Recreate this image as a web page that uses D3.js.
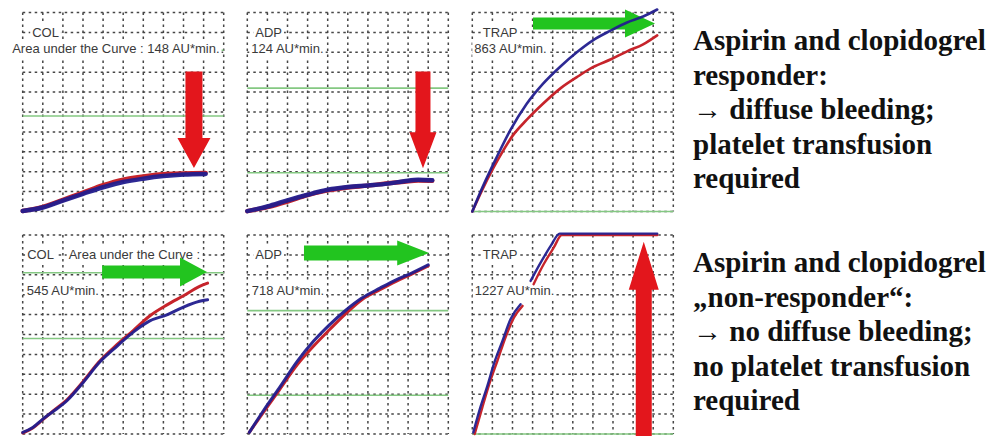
<!DOCTYPE html>
<html>
<head>
<meta charset="utf-8">
<script src="https://cdn.jsdelivr.net/npm/d3@7"></script>
<style>
  html, body { margin: 0; padding: 0; background: #fff; }
  svg { display: block; }
  .note { font-family: "Liberation Serif", "Times New Roman", "Noto Serif", "DejaVu Serif", serif; font-weight: bold; }
  .lbl { font-family: "Liberation Sans", Arial, sans-serif; }
</style>
</head>
<body>
<svg id="chart" width="1003" height="436"></svg>
<script>
// Multiplate impedance aggregometry traces.
// x: grid column (time), 0-10; y: aggregation, 0-100 of the panel height.

const panelNames = ["COL", "ADP", "TRAP", "COL", "ADP", "TRAP"];
const aucValues = [148, 124, 863, 545, 718, 1227];
const aucCaption = "Area under the Curve :";
const aucUnit = "AU*min.";

// Responder (top row)
const colRespBlue = [[0,0.3],[1,2],[2,5.5],[3,8.9],[4,12.2],[5,14.8],[6,16.5],[7,17.8],[8,18.6],[9.1,18.9]];
const colRespRed  = [[0,0.3],[1,2.3],[2,5.9],[3,9.5],[4,13.2],[5,16],[6,17.6],[7,18.7],[8,19.1],[9.1,19.3]];
const adpRespBlue = [[0,0.2],[1,2.5],[2,5.6],[3,8.4],[4,10.9],[5,12.3],[6,13.1],[7,14],[7.8,15.2],[8.5,16],[9.2,15.7]];
const adpRespRed  = [[0,0.2],[1,2.2],[2,5],[3,8.2],[4,10.6],[5,12.1],[6,13],[7,14.2],[7.8,15],[8.5,15.6],[9.2,15.5]];
const trapRespBlue = [[0,0],[0.5,12],[1.2,27],[1.9,41],[2.7,54],[3.5,64],[4.4,73],[5.2,80],[6,86],[6.9,91],[7.7,95],[8.5,98],[9.2,101.5]];
const trapRespRed  = [[0,0],[0.5,11],[1,21],[1.5,30],[2,38],[2.7,46],[3.5,54],[4.4,62],[5.2,67.5],[6,72.5],[6.9,76.5],[7.7,80.5],[8.5,84],[9.2,88.5]];

// Non-responder (bottom row); null marks a break in the trace
const colNonBlue = [[0,0.8],[0.5,3.3],[1,7.5],[1.5,11.2],[2.2,16.7],[3,25.8],[3.8,35.8],[4.7,44.2],[5.5,51.2],[6.3,56.7],[7.2,60],[8,63.8],[8.8,66.7],[9.2,67.5]];
const colNonRed  = [[0,0.5],[0.5,3],[1,7.2],[1.5,11.5],[2.2,17.2],[3,26.3],[3.8,36.3],[4.7,45],[5.5,52],[6.3,59.2],[7.2,65],[8,69.5],[8.8,74.2],[9.2,75.8]];
const adpNonBlue = [[0.1,0.8],[0.8,11.7],[1.6,23.3],[2.5,36.7],[3.3,46.7],[4.1,55],[4.9,62.2],[5.7,68.3],[6.6,73.3],[7.4,77.5],[8.2,81],[9,85]];
const adpNonRed  = [[0.1,0.8],[0.8,10.8],[1.6,22.2],[2.5,35],[3.3,44.2],[4.1,52.5],[4.9,60.5],[5.7,67.5],[6.6,72.5],[7.4,76.7],[8.2,80.5],[9,84.5]];
const trapNonBlue = [[0.05,0.8],[0.4,13.4],[0.75,24.2],[1.07,35.1],[1.5,46.8],[1.9,57.7],[2.4,65.2],null,[2.9,76.9],[3.4,86.1],[3.9,94.5],[4.35,100.7],[9.2,100.7]];
const trapNonRed  = [[0.12,0],[0.5,13.4],[0.9,26.8],[1.25,36.8],[1.65,48.5],[2.07,58.5],[2.5,64.4],null,[3.05,75.3],[3.55,85.3],[4.05,93.6],[4.45,100],[9.2,100]];

// Reference levels (green lines)
const colThresholds = [81, 48];
const adpThresholds = [62, 19.5];
const trapThresholds = [0];

const responderNote = ["Aspirin and clopidogrel", "responder:", "\u2192 diffuse bleeding;", "platelet transfusion", "required"];
const nonResponderNote = ["Aspirin and clopidogrel", "\u201Enon-responder\u201C:", "\u2192 no diffuse bleeding;", "no platelet transfusion", "required"];

// ---------- layout ----------
const svg = d3.select("#chart");
const panelW = 201, panelH = 199;
const colLeft = [22.7, 247.3, 472.3];
const rowTop = [12.5, 235];

const BLUE = "#221d8e", RED = "#c6242b", GRID = "#262626";
const GREEN_LINE = "#84c882", GREEN_ARROW = "#22c41f", RED_ARROW = "#e3161c";

const panels = [
  { row: 0, col: 0, blue: colRespBlue, red: colRespRed, thresholds: colThresholds, lw: 4.5,
    labels: [{ t: panelNames[0], dx: 9.5, dy: 24 }, { t: `${aucCaption} ${aucValues[0]} ${aucUnit}`, dx: -10.5, dy: 40.5 }],
    arrow: { from: [8.52, 70.3], to: [8.52, 21.9], sw: 17, hw: 33, hl: 30, fill: RED_ARROW } },
  { row: 0, col: 1, blue: adpRespBlue, red: adpRespRed, thresholds: adpThresholds, lw: 4.5,
    labels: [{ t: panelNames[1], dx: 8, dy: 24 }, { t: `${aucValues[1]} ${aucUnit}`, dx: 4, dy: 40.5 }],
    arrow: { from: [8.74, 70.3], to: [8.74, 21.7], sw: 15, hw: 27, hl: 36, fill: RED_ARROW } },
  { row: 0, col: 2, blue: trapRespBlue, red: trapRespRed, thresholds: trapThresholds, lw: 2.6,
    labels: [{ t: panelNames[2], dx: 10.5, dy: 24 }, { t: `${aucValues[2]} ${aucUnit}`, dx: 2, dy: 40.5 }],
    arrow: { from: [3.02, 94.5], to: [9.09, 94.5], sw: 12, hw: 28, hl: 30, fill: GREEN_ARROW } },
  { row: 1, col: 0, blue: colNonBlue, red: colNonRed, thresholds: colThresholds, lw: 3,
    labels: [{ t: panelNames[3], dx: 4.5, dy: 24 }, { t: aucCaption, dx: 46, dy: 24 }, { t: `${aucValues[3]} ${aucUnit}`, dx: 4, dy: 60 }],
    arrow: { from: [3.95, 81.4], to: [9.17, 81.4], sw: 13, hw: 29, hl: 27, fill: GREEN_ARROW } },
  { row: 1, col: 1, blue: adpNonBlue, red: adpNonRed, thresholds: adpThresholds, lw: 3,
    labels: [{ t: panelNames[4], dx: 8, dy: 24 }, { t: `${aucValues[4]} ${aucUnit}`, dx: 4.5, dy: 60 }],
    arrow: { from: [2.82, 91], to: [9.05, 91], sw: 15, hw: 25, hl: 32, fill: GREEN_ARROW } },
  { row: 1, col: 2, blue: trapNonBlue, red: trapNonRed, thresholds: trapThresholds, lw: 2.4,
    labels: [{ t: panelNames[5], dx: 10.5, dy: 24 }, { t: `${aucValues[5]} ${aucUnit}`, dx: 2.5, dy: 60 }],
    arrow: { from: [8.53, -1.5], to: [8.53, 96.6], sw: 16, hw: 30, hl: 48, fill: RED_ARROW } }
];

function arrowPoints(x1, y1, x2, y2, sw, hw, hl) {
  const len = Math.hypot(x2 - x1, y2 - y1);
  const ux = (x2 - x1) / len, uy = (y2 - y1) / len;
  const nx = -uy, ny = ux;
  const bx = x2 - ux * hl, by = y2 - uy * hl;
  return [
    [x1 + nx * sw / 2, y1 + ny * sw / 2],
    [bx + nx * sw / 2, by + ny * sw / 2],
    [bx + nx * hw / 2, by + ny * hw / 2],
    [x2, y2],
    [bx - nx * hw / 2, by - ny * hw / 2],
    [bx - nx * sw / 2, by - ny * sw / 2],
    [x1 - nx * sw / 2, y1 - ny * sw / 2]
  ];
}

panels.forEach(p => {
  const x0 = colLeft[p.col], y0 = rowTop[p.row];
  const g = svg.append("g").attr("transform", `translate(${x0},${y0})`);
  const x = d3.scaleLinear().domain([0, 10]).range([0, panelW]);
  const y = d3.scaleLinear().domain([0, 100]).range([panelH, 0]);

  // dashed grid
  const grid = g.append("g")
    .attr("stroke", GRID).attr("stroke-width", 1.5)
    .attr("stroke-dasharray", "2.5,3.5").attr("opacity", 0.85);
  grid.selectAll("line.v").data(d3.range(0, 11)).join("line")
    .attr("x1", d => x(d)).attr("x2", d => x(d))
    .attr("y1", y(100)).attr("y2", y(0));
  grid.selectAll("line.h").data(d3.range(0, 101, 10)).join("line")
    .attr("x1", x(0)).attr("x2", x(10))
    .attr("y1", d => y(d)).attr("y2", d => y(d));

  // reference levels
  g.selectAll("line.ref").data(p.thresholds).join("line")
    .attr("x1", x(0)).attr("x2", x(10))
    .attr("y1", d => y(d)).attr("y2", d => y(d))
    .attr("stroke", GREEN_LINE).attr("stroke-width", 1.6);

  // labels on white boxes
  p.labels.forEach(l => {
    const t = g.append("text").attr("class", "lbl")
      .attr("x", l.dx).attr("y", l.dy)
      .attr("font-size", 13).attr("fill", "#3a3a3a")
      .text(l.t);
    const bb = t.node().getBBox();
    g.insert("rect", () => t.node())
      .attr("x", bb.x - 2).attr("y", bb.y - 1)
      .attr("width", bb.width + 4).attr("height", bb.height + 2)
      .attr("fill", "#fff");
  });

  // arrow
  const a = p.arrow;
  g.append("polygon")
    .attr("points", arrowPoints(x(a.from[0]), y(a.from[1]), x(a.to[0]), y(a.to[1]), a.sw, a.hw, a.hl).map(q => q.join(",")).join(" "))
    .attr("fill", a.fill);

  // traces
  const line = d3.line().defined(d => d !== null).x(d => x(d[0])).y(d => y(d[1])).curve(d3.curveMonotoneX);
  g.append("path").attr("d", line(p.red)).attr("fill", "none")
    .attr("stroke", RED).attr("stroke-width", p.lw).attr("stroke-linejoin", "round").attr("stroke-linecap", "round");
  g.append("path").attr("d", line(p.blue)).attr("fill", "none")
    .attr("stroke", BLUE).attr("stroke-width", p.lw).attr("stroke-linejoin", "round").attr("stroke-linecap", "round")
    .attr("opacity", 0.95);
});

// side notes
function note(lines, top) {
  svg.append("g").selectAll("text").data(lines).join("text")
    .attr("class", "note")
    .attr("x", 693).attr("y", (d, i) => top + i * 34.6)
    .attr("font-size", 29).attr("fill", "#111")
    .text(d => d);
}
note(responderNote, 50);
note(nonResponderNote, 272);
</script>
</body>
</html>
